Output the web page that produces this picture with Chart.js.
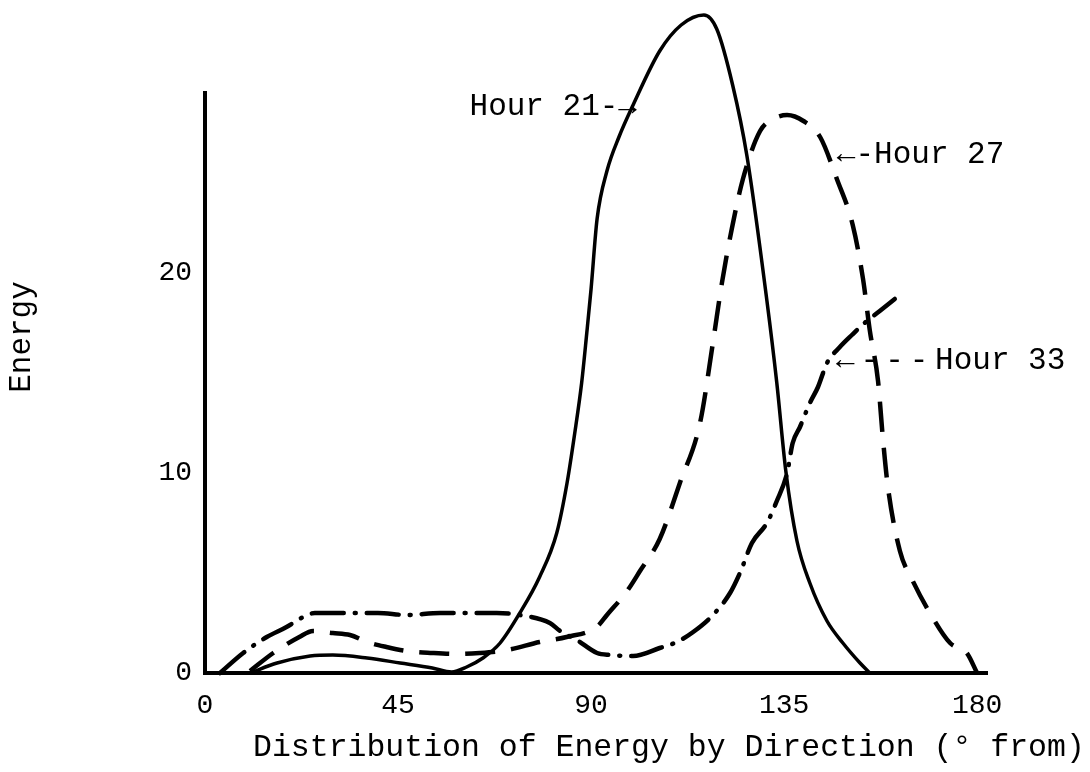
<!DOCTYPE html>
<html>
<head>
<meta charset="utf-8">
<title>Distribution of Energy by Direction</title>
<script src="https://cdn.jsdelivr.net/npm/chart.js@4.4.1/dist/chart.umd.min.js"></script>
<style>
  html, body { margin: 0; padding: 0; background: #fff; }
  #wrap { width: 1090px; height: 772px; }
</style>
</head>
<body>
<div id="wrap"><canvas id="chart-energy" width="1090" height="772"></canvas></div>
<script>
// direction (degrees) and energy
const hour21Deg = [10.5, 16.8, 24.5, 29.8, 37.8, 45.5, 53, 57.5, 61, 64.8, 68.8, 73.4, 78, 82, 84.4, 86.2, 87.8, 89, 90, 91.4, 93.7, 96.5, 99.8, 106, 111, 116.3, 119.3, 123, 126.3, 131, 133.3, 135.4, 138, 141, 145, 148.7, 152.7, 155]
const hour21Energy = [0, 0.5, 0.85, 0.9, 0.75, 0.5, 0.25, 0.05, 0.3, 0.75, 1.5, 3.0, 4.8, 7.0, 9.5, 12.0, 14.5, 17.0, 19.2, 22.7, 25.1, 26.8, 28.4, 31.1, 32.4, 32.9, 32.2, 29.4, 25.9, 18.6, 14.5, 10.1, 6.6, 4.5, 2.6, 1.5, 0.5, 0]

const hour27Deg = [10.5, 15.9, 22, 25.2, 29.8, 33.8, 37.8, 42.3, 47, 53, 58.7, 64, 70.4, 78, 84.3, 91.3, 93.7, 98.4, 101.4, 106, 110.7, 115.4, 118.4, 120.5, 122.8, 125.4, 129.4, 132.5, 135.7, 139.5, 143.4, 147.3, 151, 153.4, 155, 156.9, 158, 159.2, 162, 165, 169, 173.7, 177.6, 180]
const hour27Energy = [0.1, 1.0, 1.8, 2.1, 2.0, 1.9, 1.55, 1.3, 1.1, 1.0, 0.95, 1.0, 1.15, 1.55, 1.8, 2.3, 2.9, 4.1, 5.1, 6.7, 9.5, 12.5, 16.5, 19.5, 22.2, 24.7, 27.1, 27.7, 27.9, 27.6, 26.8, 24.7, 22.4, 19.7, 17.1, 14.6, 11.8, 9.3, 6.1, 4.6, 3.0, 1.5, 1.0, 0]

const hour33Deg = [3.5, 8.9, 14.4, 19, 22.9, 25.6, 31.5, 40.3, 47, 54.8, 61, 68, 73.4, 80.4, 82.8, 86.7, 91.4, 94.4, 99.8, 106, 110, 113.8, 118.4, 122.4, 124.7, 127.5, 131, 133.3, 135.7, 137, 138.7, 141, 142.9, 145, 148, 150.8, 154.3, 157.3, 160.8]
const hour33Energy = [0, 1.0, 1.8, 2.3, 2.8, 3.0, 3.0, 3.0, 2.9, 3.0, 3.0, 3.0, 2.9, 2.5, 2.1, 1.65, 1.0, 0.9, 0.85, 1.25, 1.55, 2.05, 2.9, 4.0, 5.0, 6.5, 7.5, 8.6, 10.0, 11.5, 12.3, 13.5, 14.3, 15.5, 16.3, 16.9, 17.6, 18.1, 18.7]

const xTicks = [0, 45, 90, 135, 180]
const yTicks = [0, 10, 20]
const curveLabels = ['Hour 21-→', '←-Hour 27', '←---Hour 33']
const xTitle = 'Distribution of Energy by Direction (° from)'
const yTitle = 'Energy'

const FONT = '"Courier New", "Liberation Mono", "DejaVu Sans Mono", monospace'

const toPoints = (xs, ys) => xs.map((x, i) => ({ x, y: ys[i] }))

const textPlugin = {
  id: 'curveText',
  afterDraw(chart) {
    const { ctx, scales: { x, y } } = chart
    ctx.save()
    ctx.fillStyle = '#000'
    ctx.font = `31px ${FONT}`
    ctx.textBaseline = 'middle'

    // arrow labels, placed next to the curves they point at
    ctx.textAlign = 'right'
    ctx.fillText(curveLabels[0], x.getPixelForValue(100.7), y.getPixelForValue(28.3))
    ctx.textAlign = 'left'
    ctx.fillText(curveLabels[1], x.getPixelForValue(147.3), y.getPixelForValue(25.9))
    // the typed arrow of Hour 33 is spread out wider than the words
    const arrow33 = curveLabels[2].slice(0, 4)
    const word33 = curveLabels[2].slice(4)
    const y33 = y.getPixelForValue(15.6)
    ctx.letterSpacing = '6px'
    ctx.fillText(arrow33, x.getPixelForValue(147.1), y33)
    ctx.letterSpacing = '0px'
    ctx.fillText(word33, x.getPixelForValue(170.2), y33)

    // axis titles (the x one sits off-centre in the original)
    ctx.font = `31.5px ${FONT}`
    ctx.fillText(xTitle, x.getPixelForValue(11.2), 748)
    ctx.font = `31px ${FONT}`
    ctx.translate(22, y.getPixelForValue(16.8))
    ctx.rotate(-Math.PI / 2)
    ctx.textAlign = 'center'
    ctx.fillText(yTitle, 0, 0)
    ctx.restore()
  }
}

const common = {
  showLine: true,
  pointRadius: 0,
  borderColor: '#000',
  backgroundColor: '#000',
  cubicInterpolationMode: 'monotone',
  clip: false
}

new Chart(document.getElementById('chart-energy').getContext('2d'), {
  type: 'scatter',
  data: {
    datasets: [
      { ...common, label: 'Hour 21', data: toPoints(hour21Deg, hour21Energy), borderWidth: 3.5 },
      { ...common, label: 'Hour 27', data: toPoints(hour27Deg, hour27Energy), borderWidth: 4.5, borderDash: [30, 16] },
      { ...common, label: 'Hour 33', data: toPoints(hour33Deg, hour33Energy), borderWidth: 4.5, borderDash: [32, 11, 1, 11], borderCapStyle: 'round' }
    ]
  },
  options: {
    responsive: false,
    animation: false,
    layout: { padding: { top: 93, right: 103, left: 0, bottom: 0 } },
    plugins: {
      legend: { display: false },
      tooltip: { enabled: false }
    },
    scales: {
      x: {
        type: 'linear',
        min: 0,
        max: 182.3,
        grid: { display: false, drawTicks: false },
        border: { display: true, color: '#000', width: 4 },
        afterBuildTicks: s => { s.ticks = xTicks.map(v => ({ value: v })) },
        afterFit: s => { s.height = 99 },
        ticks: { color: '#000', padding: 16, maxRotation: 0, font: { family: FONT, size: 28 } }
      },
      y: {
        type: 'linear',
        min: 0,
        max: 29,
        grid: { display: false, drawTicks: false },
        border: { display: true, color: '#000', width: 4 },
        afterBuildTicks: s => { s.ticks = yTicks.map(v => ({ value: v })) },
        afterFit: s => { s.width = 205 },
        ticks: { color: '#000', padding: 13, font: { family: FONT, size: 28 } }
      }
    }
  },
  plugins: [textPlugin]
})
</script>
</body>
</html>
